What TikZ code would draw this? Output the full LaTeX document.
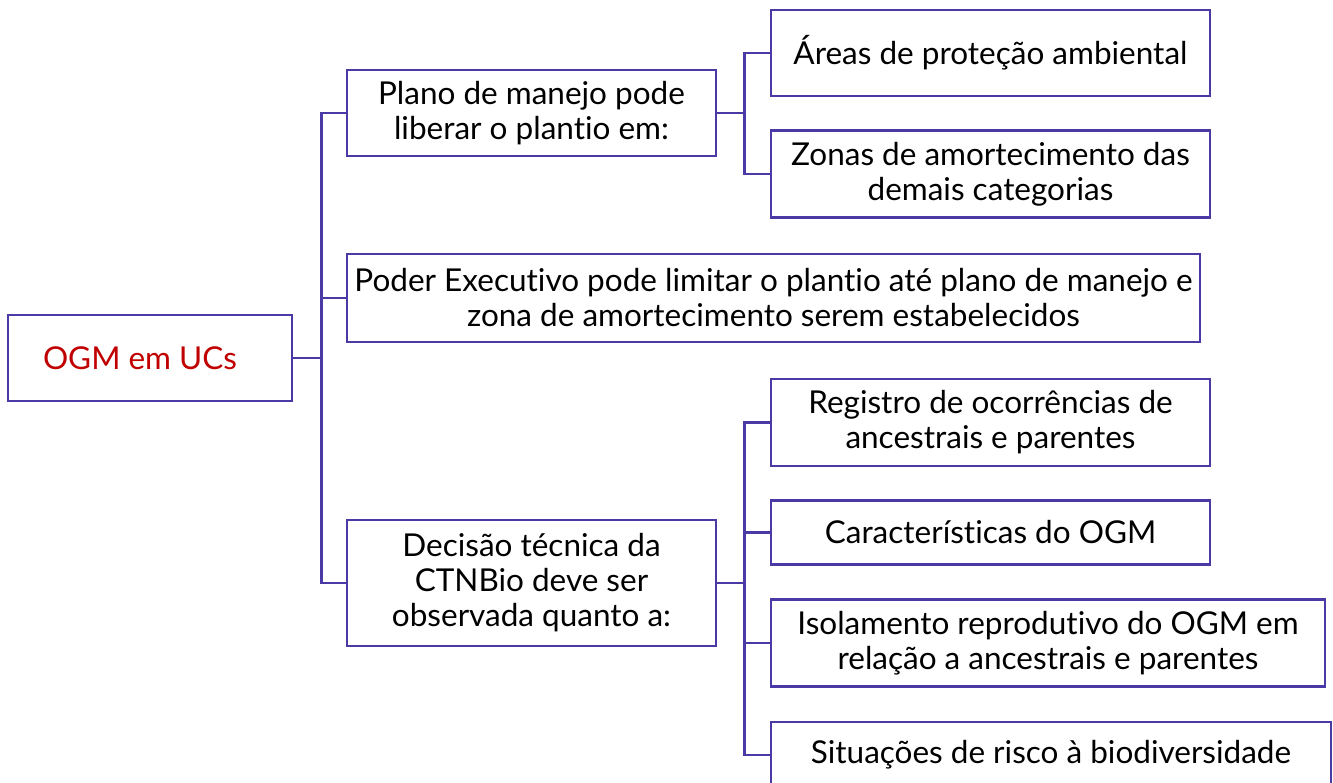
\documentclass[tikz,border=0pt]{standalone}
\usepackage{fontspec}
\setmainfont{Lato}[Ligatures={NoCommon,NoRare,NoDiscretionary}]
\definecolor{edge}{RGB}{74,58,166}
\definecolor{ogmred}{RGB}{192,0,0}
\begin{document}
\begin{tikzpicture}[x=1pt,y=-1pt,
  box/.style={draw=edge,line width=2.8pt,inner sep=0pt,align=center,anchor=center,
    font=\fontsize{31.5}{35}\selectfont},
  link/.style={draw=edge,line width=2.8pt}]
\clip (0,0) rectangle (1333,782);
\node[box,minimum width=284,minimum height=86,text=ogmred] (ogm) at (150,358) {OGM em UCs\hspace*{20pt}};
\node[box,minimum width=369,minimum height=86] (plano) at (531.5,113) {Plano de manejo pode\\liberar o plantio em:};
\node[box,minimum width=853,minimum height=88] (poder) at (773.5,298) {Poder Executivo pode limitar o plantio até plano de manejo e\\zona de amortecimento serem estabelecidos};
\node[box,minimum width=369,minimum height=126] (decisao) at (531.5,583) {Decisão técnica da\\CTNBio deve ser\\observada quanto a:};
\node[box,minimum width=439,minimum height=86] (areas) at (990.5,53) {Áreas de proteção ambiental};
\node[box,minimum width=439,minimum height=87] (zonas) at (990.5,174) {Zonas de amortecimento das\\demais categorias};
\node[box,minimum width=439,minimum height=87] (registro) at (990.5,422.5) {Registro de ocorrências de\\ancestrais e parentes};
\node[box,minimum width=439,minimum height=64] (caract) at (990.5,532.5) {Características do OGM};
\node[box,minimum width=554,minimum height=87] (isol) at (1048,643) {Isolamento reprodutivo do OGM em\\relação a ancestrais e parentes};
\node[box,minimum width=560,minimum height=66] (situ) at (1051,755) {Situações de risco à biodiversidade};
\foreach \c in {plano,poder,decisao}
  \draw[link] (ogm.east) -- ++(28,0) |- (\c.west);
\foreach \c in {areas,zonas}
  \draw[link] (plano.east) -- ++(27,0) |- (\c.west);
\foreach \c in {registro,caract,isol,situ}
  \draw[link] (decisao.east) -- ++(27,0) |- (\c.west);
\end{tikzpicture}
\end{document}
